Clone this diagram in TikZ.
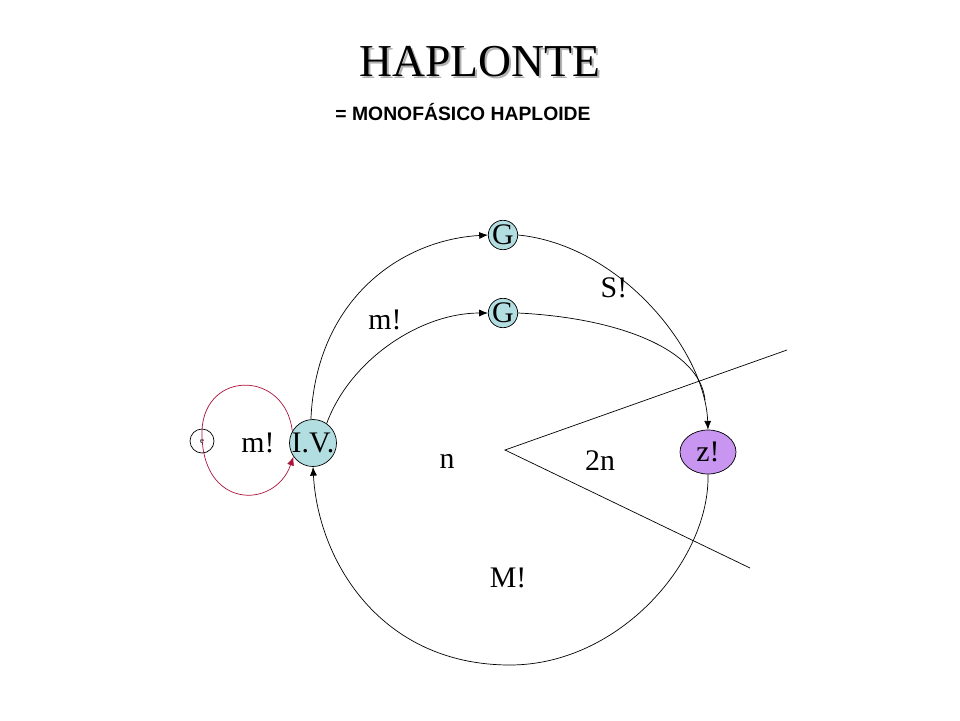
\documentclass[tikz,border=0pt]{standalone}
\usepackage{fontspec}
\setmainfont{Liberation Serif}
\setsansfont{Liberation Sans}
\usetikzlibrary{arrows.meta,shapes.geometric}
\definecolor{cellblue}{RGB}{178,222,226}
\definecolor{zygote}{RGB}{200,150,240}
\definecolor{loopred}{RGB}{170,20,60}
\tikzset{
  cell/.style={circle,draw,fill=cellblue,inner sep=0pt},
  lbl/.style={font=\fontsize{17}{20}\selectfont},
  flow/.style={-{Latex[length=5pt,width=4pt]}},
}
\begin{document}
\begin{tikzpicture}[x=0.02cm,y=-0.02cm]
\useasboundingbox (0,0) rectangle (960,720);
% title
\node[font=\fontsize{26}{30}\selectfont,gray!60] (shadow) at (482,64) {HAPLONTE};
\node[font=\fontsize{26}{30}\selectfont] (title) at (480,62) {HAPLONTE};
\node[font=\sffamily\bfseries\fontsize{11}{13}\selectfont] (sub) at (463,112) {= MONOFÁSICO HAPLOIDE};

% cells
\node[cell,minimum size=0.56cm,font=\fontsize{17}{20}\selectfont] (g1) at (503,235) {G};
\node[cell,minimum size=0.56cm,font=\fontsize{17}{20}\selectfont] (g2) at (503,313) {G};
\node[cell,minimum size=0.92cm,font=\fontsize{17}{20}\selectfont] (iv) at (313,443) {I.V.};
\node[ellipse,draw,fill=zygote,minimum width=1.12cm,minimum height=0.88cm,inner sep=0pt,
      font=\fontsize{17}{20}\selectfont] (z) at (708,452) {z!};
\node[circle,draw,minimum size=0.48cm,inner sep=0pt,font=\tiny] (e) at (202,441) {e};

% labels
\node[lbl] (s) at (614,288) {S!};
\node[lbl] (m1) at (385,320) {m!};
\node[lbl] (m2) at (258,443) {m!};
\node[lbl] (n) at (447,461) {n};
\node[lbl] (n2) at (600,461) {2n};
\node[lbl] (mm) at (508,578) {M!};

% ploidy wedge
\coordinate (w0) at (505,450);
\coordinate (w1) at (787,350);
\coordinate (w2) at (750,568);
\draw (w1) -- (w0) -- (w2);

% cycle
\draw[flow] (iv.95) .. controls (316,300) and (400,240) .. (g1.west);
\draw[flow] (g1.east) .. controls (620,245) and (705,350) .. (z.north);
\draw[flow] (iv.55) .. controls (350,360) and (420,313) .. (g2.west);
\draw (g2.east) .. controls (620,318) and (700,350) .. (705,400);
\draw[flow] (z.south) .. controls (710,560) and (620,665) .. (510,665)
  .. controls (380,665) and (318,560) .. (iv.south);
\draw[loopred,-{Latex[length=5pt,width=4pt]}] (iv.150) .. controls (285,370) and (205,370) .. (202,430)
  .. controls (200,510) and (275,510) .. (iv.215);
\end{tikzpicture}
\end{document}
